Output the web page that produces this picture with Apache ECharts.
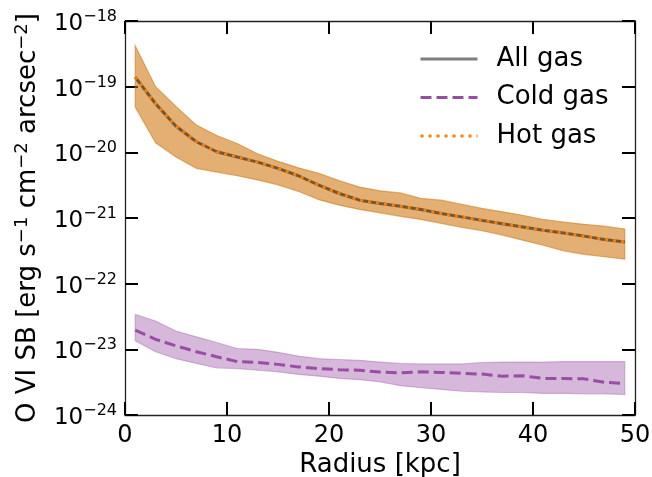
<!DOCTYPE html>
<html>
<head>
<meta charset="utf-8">
<script src="https://cdn.jsdelivr.net/npm/echarts@6/dist/echarts.min.js"></script>
<style>html,body{margin:0;padding:0;background:#fff;}#c{width:652px;height:477px;}</style>
</head>
<body>
<div id="c"></div>
<script>
var radius = [1,3,5,7,9,11,13,15,17,19,21,23,25,27,29,31,33,35,37,39,41,43,45,47,49];

var allGas = [1.4e-19,5.5e-20,2.5e-20,1.45e-20,1.02e-20,8.5e-21,7.1e-21,5.7e-21,4.4e-21,3.16e-21,2.36e-21,1.87e-21,1.66e-21,1.51e-21,1.35e-21,1.17e-21,1.04e-21,9.2e-22,8.2e-22,7.3e-22,6.5e-22,5.9e-22,5.3e-22,4.7e-22,4.3e-22];
var hotGas = [1.4e-19,5.5e-20,2.5e-20,1.45e-20,1.02e-20,8.5e-21,7.1e-21,5.7e-21,4.4e-21,3.16e-21,2.36e-21,1.87e-21,1.66e-21,1.51e-21,1.35e-21,1.17e-21,1.04e-21,9.2e-22,8.2e-22,7.3e-22,6.5e-22,5.9e-22,5.3e-22,4.7e-22,4.3e-22];
var hotUpper = [4.2e-19,1.0e-19,5.0e-20,2.6e-20,1.8e-20,1.36e-20,9.5e-21,7.3e-21,5.8e-21,4.8e-21,3.7e-21,2.96e-21,2.59e-21,2.41e-21,1.99e-21,1.87e-21,1.62e-21,1.4e-21,1.24e-21,1.1e-21,9.5e-22,8.7e-22,8.0e-22,7.5e-22,6.8e-22];
var hotLower = [4.9e-20,1.4e-20,8.5e-21,5.7e-21,5.0e-21,4.4e-21,3.8e-21,3.2e-21,2.55e-21,1.9e-21,1.57e-21,1.35e-21,1.2e-21,1.06e-21,9.5e-22,8.3e-22,7.2e-22,6.4e-22,5.5e-22,4.6e-22,3.85e-22,3.16e-22,2.8e-22,2.57e-22,2.36e-22];

var coldGas = [1.96e-23,1.42e-23,1.13e-23,9.2e-24,7.7e-24,6.5e-24,6.3e-24,5.9e-24,5.4e-24,5.1e-24,4.9e-24,4.8e-24,4.5e-24,4.4e-24,4.55e-24,4.45e-24,4.3e-24,4.2e-24,3.9e-24,3.95e-24,3.6e-24,3.6e-24,3.55e-24,3.15e-24,3.0e-24];
var coldUpper = [3.4e-23,2.7e-23,1.9e-23,1.55e-23,1.27e-23,1.03e-23,1.0e-23,9.0e-24,7.9e-24,7.2e-24,7.0e-24,6.8e-24,6.4e-24,6.1e-24,6.0e-24,6.0e-24,6.0e-24,6.3e-24,6.4e-24,6.4e-24,6.4e-24,6.5e-24,6.5e-24,6.5e-24,6.5e-24];
var coldLower = [1.35e-23,9.2e-24,7.2e-24,6.1e-24,5.2e-24,5.1e-24,4.8e-24,4.55e-24,4.15e-24,3.9e-24,3.6e-24,3.45e-24,3.2e-24,2.8e-24,2.6e-24,2.45e-24,2.3e-24,2.24e-24,2.2e-24,2.2e-24,2.13e-24,2.13e-24,2.1e-24,2.1e-24,2.05e-24];

var xTicks = [0,10,20,30,40,50];
var yTickExponents = ['−24','−23','−22','−21','−20','−19','−18'];

var FONT = 'DejaVu Sans';

function pairs(xs, ys) {
  var out = [];
  for (var i = 0; i < xs.length; i++) out.push([xs[i], ys[i]]);
  return out;
}

function band(lower, upper, fill, edge) {
  return {
    type: 'custom',
    xAxisIndex: 0,
    yAxisIndex: 0,
    silent: true,
    z: 1,
    data: [[radius[0], upper[0]]],
    renderItem: function (params, api) {
      var pts = [];
      for (var i = 0; i < radius.length; i++) pts.push(api.coord([radius[i], upper[i]]));
      for (var j = radius.length - 1; j >= 0; j--) pts.push(api.coord([radius[j], lower[j]]));
      return {
        type: 'polygon',
        shape: { points: pts },
        style: { fill: fill, stroke: edge, lineWidth: 1.2 }
      };
    }
  };
}

var chart = echarts.init(document.getElementById('c'), null, { renderer: 'canvas' });

var tickStyle = { show: true, inside: true, length: 13, lineStyle: { color: '#000', width: 2 } };
var lineAxis = { show: true, onZero: false, lineStyle: { color: '#222', width: 1.3 } };
var Y_MIN = 9.9999e-25, Y_MAX = 1.00001e-18;

chart.setOption({
  animation: false,
  backgroundColor: '#fff',
  textStyle: { fontFamily: FONT },
  grid: { left: 125, right: 17, top: 21, bottom: 62, containLabel: false, outerBoundsMode: 'none' },
  legend: {
    orient: 'vertical',
    left: 414,
    top: 39,
    data: ['All gas', 'Cold gas', 'Hot gas'],
    itemWidth: 57,
    itemHeight: 14,
    itemGap: 8.5,
    itemStyle: { opacity: 0 },
    lineStyle: { width: 3 },
    textStyle: { fontFamily: FONT, fontSize: 26, color: '#000', lineHeight: 30, padding: [0, 0, 0, 14] }
  },
  xAxis: [
    {
      type: 'value', position: 'bottom', min: 0, max: 50, interval: 10,
      axisLine: lineAxis, axisTick: tickStyle, splitLine: { show: false },
      axisLabel: {
        margin: 9, fontSize: 24, color: '#000', fontFamily: FONT,
        formatter: function (v) { return xTicks.indexOf(v) >= 0 ? String(v) : ''; }
      },
      name: 'Radius [kpc]', nameLocation: 'middle', nameGap: 37, nameMoveOverlap: false,
      nameTextStyle: { fontSize: 26, color: '#000', fontFamily: FONT }
    },
    {
      type: 'value', position: 'top', min: 0, max: 50, interval: 10,
      axisLine: lineAxis, axisTick: tickStyle, splitLine: { show: false },
      axisLabel: { show: false }
    }
  ],
  yAxis: [
    {
      type: 'log', logBase: 10, min: Y_MIN, max: Y_MAX,
      axisLine: lineAxis, axisTick: tickStyle,
      splitLine: { show: false },
      axisLabel: {
        margin: 8, color: '#000', fontFamily: FONT, showMinLabel: true, showMaxLabel: true,
        padding: [6, 0, 0, 0],
        formatter: function (v) {
          var e = Math.round(Math.log(v) / Math.LN10);
          var idx = e + 24;
          return '{a|10}{b|' + yTickExponents[idx] + '}';
        },
        rich: {
          a: { fontSize: 23, lineHeight: 30, fontFamily: FONT, color: '#000' },
          b: { fontSize: 16, lineHeight: 16, verticalAlign: 'top', fontFamily: FONT, color: '#000' }
        }
      },
      name: 'O VI SB [erg s{s|−1} cm{s|−2} arcsec{s|−2}]',
      nameLocation: 'middle', nameRotate: 90, nameGap: 82, nameMoveOverlap: false,
      nameTextStyle: {
        fontSize: 26, color: '#000', fontFamily: FONT, lineHeight: 30,
        rich: {
          s: { fontSize: 18, lineHeight: 18, verticalAlign: 'top', fontFamily: FONT, color: '#000' }
        }
      }
    },
    {
      type: 'log', logBase: 10, min: Y_MIN, max: Y_MAX, position: 'right',
      axisLine: lineAxis, axisTick: tickStyle,
      splitLine: { show: false }, axisLabel: { show: false }
    }
  ],
  series: [
    band(hotLower, hotUpper, 'rgba(204,110,0,0.55)', 'rgba(204,110,0,0.5)'),
    band(coldLower, coldUpper, 'rgba(152,78,163,0.4)', 'rgba(152,78,163,0.35)'),
    {
      name: 'All gas', type: 'line', data: pairs(radius, allGas), showSymbol: false, symbol: 'none',
      z: 3, lineStyle: { color: 'rgba(0,0,0,0.5)', width: 3, type: 'solid' },
      itemStyle: { color: 'rgba(0,0,0,0.5)' }
    },
    {
      name: 'Cold gas', type: 'line', data: pairs(radius, coldGas), showSymbol: false, symbol: 'none',
      z: 4, lineStyle: { color: '#984ea3', width: 3, type: [11, 5], cap: 'butt' },
      itemStyle: { color: '#984ea3' }
    },
    {
      name: 'Hot gas', type: 'line', data: pairs(radius, hotGas), showSymbol: false, symbol: 'none',
      z: 5, lineStyle: { color: '#ff7f00', width: 3, type: [3, 5], cap: 'butt' },
      itemStyle: { color: '#ff7f00' }
    }
  ]
});
</script>
</body>
</html>
